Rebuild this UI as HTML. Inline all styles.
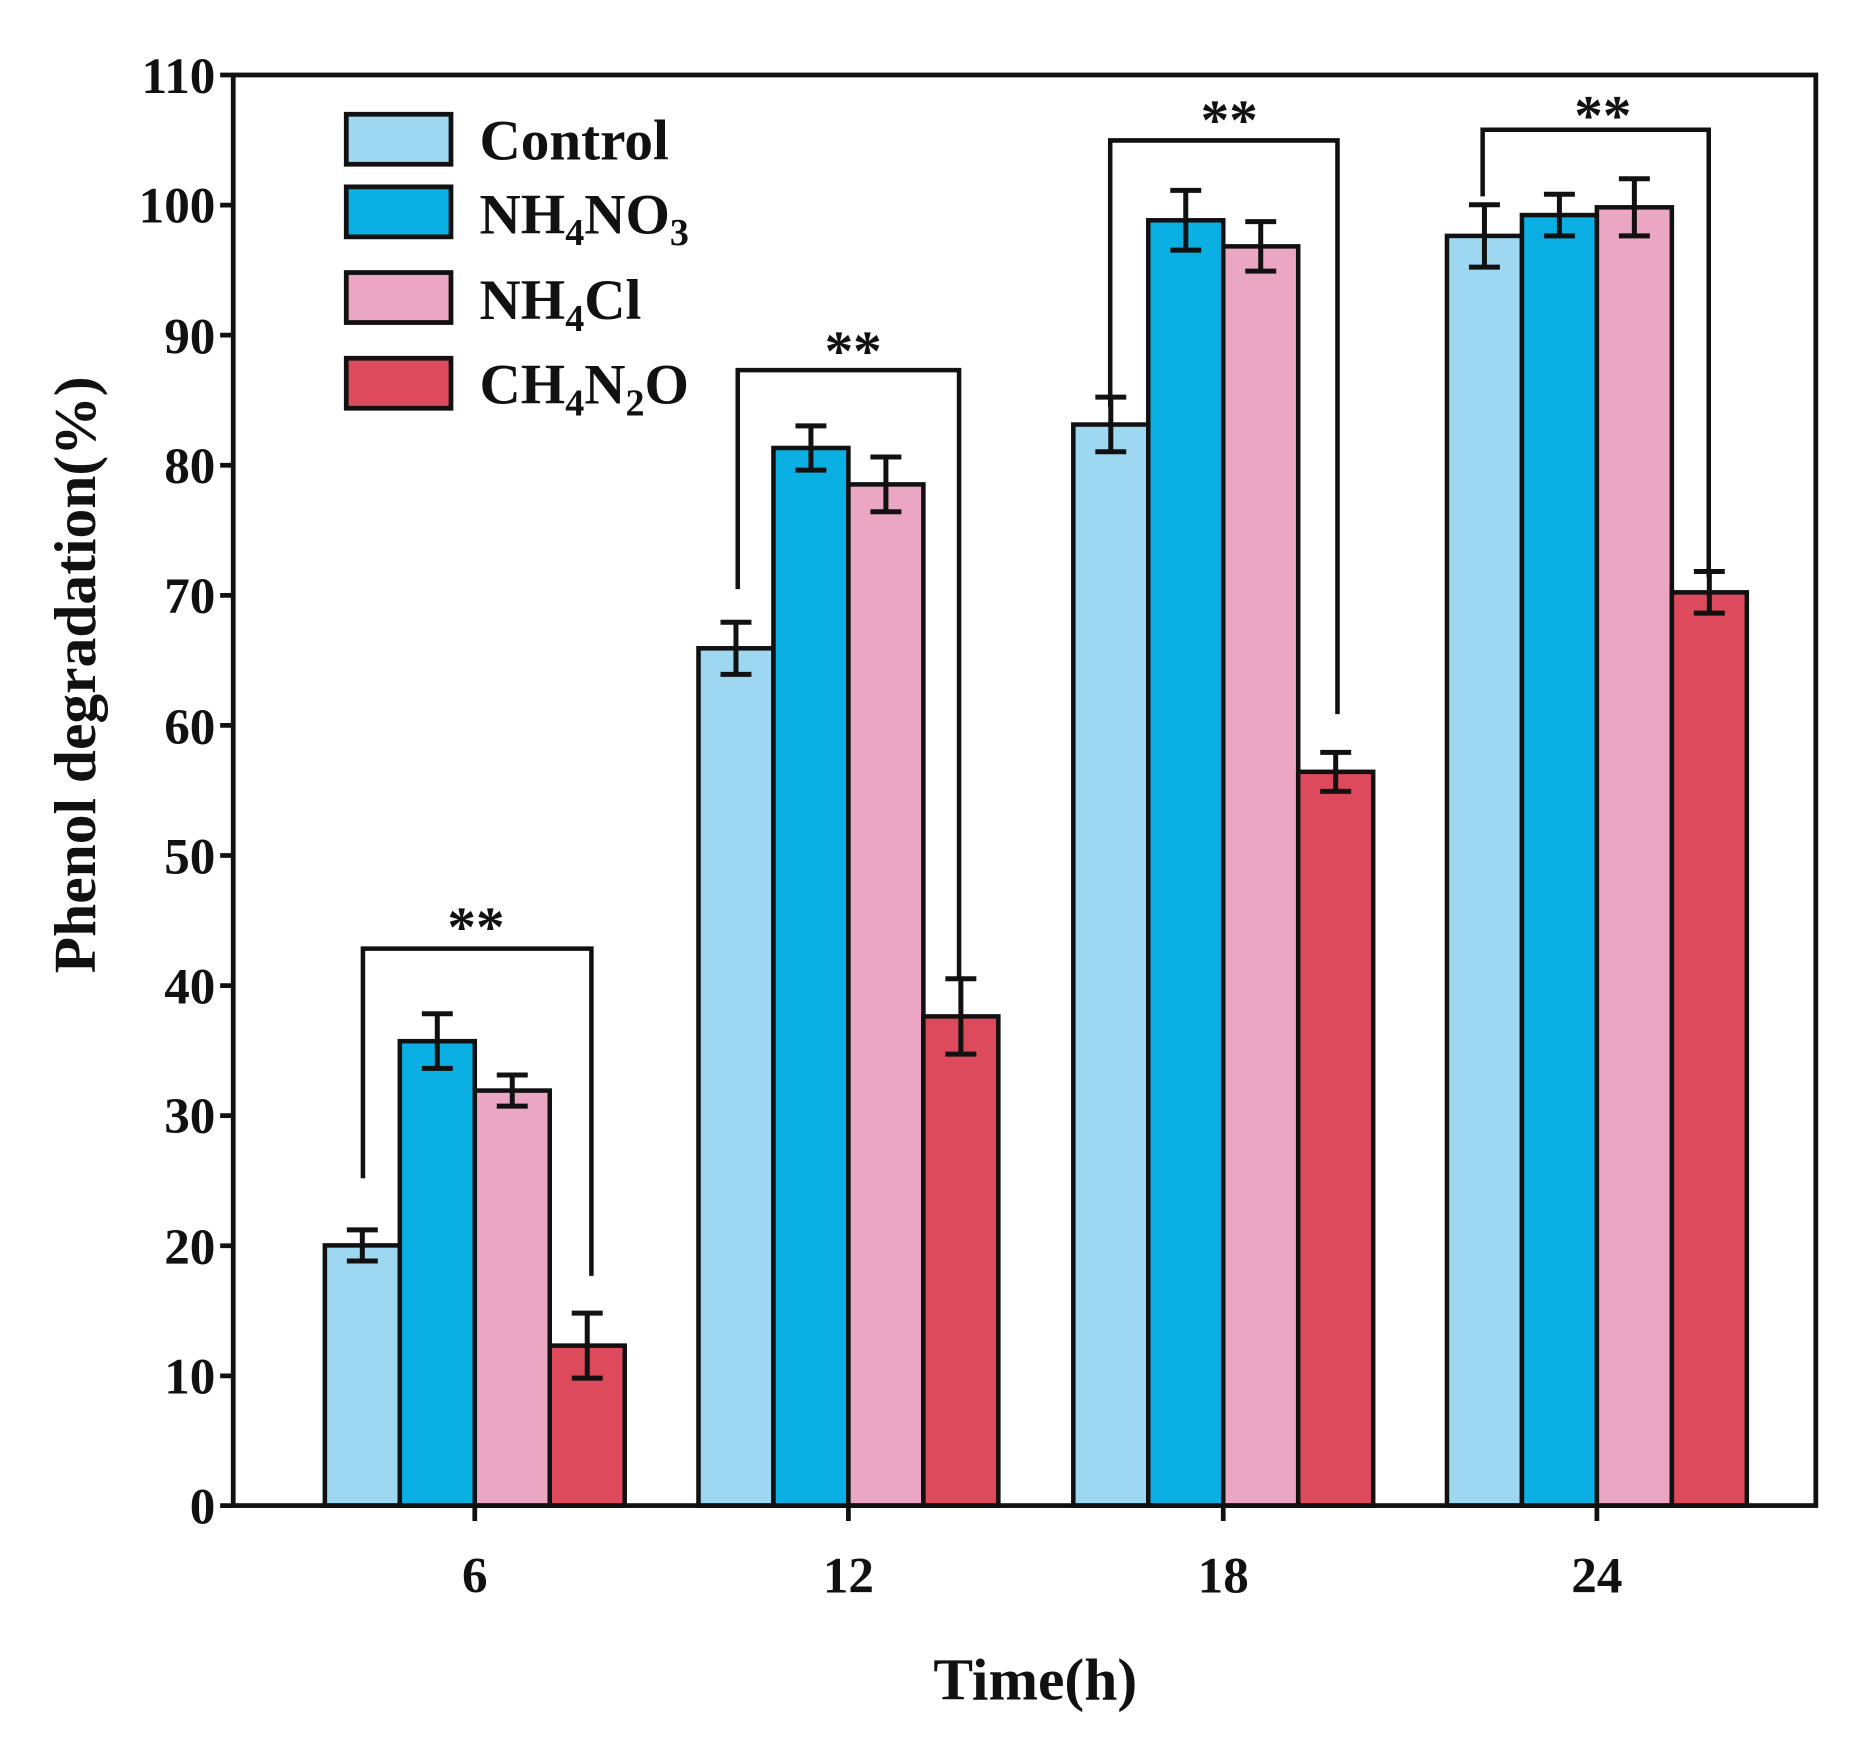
<!DOCTYPE html>
<html><head><meta charset="utf-8"><style>
html,body{margin:0;padding:0;background:#fff}
svg{display:block}
text{font-family:"Liberation Serif",serif;font-weight:bold;fill:#111}
</style></head><body>
<svg width="1867" height="1746" viewBox="0 0 1569 1467" preserveAspectRatio="none" xmlns="http://www.w3.org/2000/svg">
<g stroke="#111" stroke-width="3.8">
<rect x="273" y="1046.4" width="63" height="218.6" fill="#9dd7f0"/>
<rect x="336" y="874.8" width="63" height="390.2" fill="#0aafe3"/>
<rect x="399" y="916.3" width="63" height="348.7" fill="#eaa6c2"/>
<rect x="462" y="1130.6" width="63" height="134.4" fill="#dd4a5c"/>
<rect x="587" y="544.7" width="63" height="720.3" fill="#9dd7f0"/>
<rect x="650" y="376.4" width="63" height="888.6" fill="#0aafe3"/>
<rect x="713" y="407.0" width="63" height="858.0" fill="#eaa6c2"/>
<rect x="776" y="854.0" width="63" height="411.0" fill="#dd4a5c"/>
<rect x="902" y="356.7" width="63" height="908.3" fill="#9dd7f0"/>
<rect x="965" y="185.1" width="63" height="1079.9" fill="#0aafe3"/>
<rect x="1028" y="207.0" width="63" height="1058.0" fill="#eaa6c2"/>
<rect x="1091" y="648.5" width="63" height="616.5" fill="#dd4a5c"/>
<rect x="1216" y="198.2" width="63" height="1066.8" fill="#9dd7f0"/>
<rect x="1279" y="180.7" width="63" height="1084.3" fill="#0aafe3"/>
<rect x="1342" y="174.2" width="63" height="1090.8" fill="#eaa6c2"/>
<rect x="1405" y="497.7" width="63" height="767.3" fill="#dd4a5c"/>
</g>
<g stroke="#111" stroke-width="4.2" fill="none">
<path d="M304.5 1033.3V1059.5M291.5 1033.3H317.5M291.5 1059.5H317.5"/>
<path d="M367.5 851.8V897.7M354.5 851.8H380.5M354.5 897.7H380.5"/>
<path d="M430.5 903.2V929.4M417.5 903.2H443.5M417.5 929.4H443.5"/>
<path d="M493.5 1103.3V1157.9M480.5 1103.3H506.5M480.5 1157.9H506.5"/>
<path d="M618.5 522.8V566.6M605.5 522.8H631.5M605.5 566.6H631.5"/>
<path d="M681.5 357.8V395.0M668.5 357.8H694.5M668.5 395.0H694.5"/>
<path d="M744.5 384.0V430.0M731.5 384.0H757.5M731.5 430.0H757.5"/>
<path d="M807.5 822.3V885.7M794.5 822.3H820.5M794.5 885.7H820.5"/>
<path d="M933.5 333.7V379.6M920.5 333.7H946.5M920.5 379.6H946.5"/>
<path d="M996.5 160.0V210.2M983.5 160.0H1009.5M983.5 210.2H1009.5"/>
<path d="M1059.5 186.2V227.8M1046.5 186.2H1072.5M1046.5 227.8H1072.5"/>
<path d="M1122.5 632.1V664.9M1109.5 632.1H1135.5M1109.5 664.9H1135.5"/>
<path d="M1247.5 172.0V224.4M1234.5 172.0H1260.5M1234.5 224.4H1260.5"/>
<path d="M1310.5 163.2V198.2M1297.5 163.2H1323.5M1297.5 198.2H1323.5"/>
<path d="M1373.5 150.2V198.2M1360.5 150.2H1386.5M1360.5 198.2H1386.5"/>
<path d="M1436.5 480.2V515.2M1423.5 480.2H1449.5M1423.5 515.2H1449.5"/>
</g>
<g stroke="#111" stroke-width="3.8" fill="none">
<path d="M305 990V797H497V1072"/>
<path d="M620 495V311H806V822"/>
<path d="M933 342V118H1124V600"/>
<path d="M1246 165V109H1436V485"/>
</g>
<g font-size="48" text-anchor="middle">
<text x="400" y="795">**</text>
<text x="717" y="311">**</text>
<text x="1033" y="117">**</text>
<text x="1347" y="113">**</text>
</g>
<rect x="196" y="63" width="1330" height="1202" fill="none" stroke="#111" stroke-width="4"/>
<g stroke="#111" stroke-width="4">
<path d="M185 63H196M185 172.3H196M185 281.6H196M185 390.9H196M185 500.2H196M185 609.5H196M185 718.8H196M185 828.1H196M185 937.4H196M185 1046.7H196M185 1156H196M185 1265H196"/>
<path d="M399 1265V1278M713 1265V1278M1028 1265V1278M1342 1265V1278"/>
</g>
<g font-size="43" text-anchor="end">
<text x="181" y="78">110</text>
<text x="181" y="187">100</text>
<text x="181" y="297">90</text>
<text x="181" y="406">80</text>
<text x="181" y="515">70</text>
<text x="181" y="625">60</text>
<text x="181" y="734">50</text>
<text x="181" y="843">40</text>
<text x="181" y="952">30</text>
<text x="181" y="1062">20</text>
<text x="181" y="1171">10</text>
<text x="181" y="1280">0</text>
</g>
<g font-size="43" text-anchor="middle">
<text x="399" y="1338">6</text>
<text x="713" y="1338">12</text>
<text x="1028" y="1338">18</text>
<text x="1342" y="1338">24</text>
</g>
<text x="870" y="1428" font-size="50" text-anchor="middle">Time(h)</text>
<text transform="translate(80,567) rotate(-90)" font-size="50" text-anchor="middle">Phenol degradation(%)</text>
<g stroke="#111" stroke-width="4">
<rect x="291" y="96" width="88" height="42" fill="#9dd7f0"/>
<rect x="291" y="157" width="88" height="42" fill="#0aafe3"/>
<rect x="291" y="229" width="88" height="42" fill="#eaa6c2"/>
<rect x="291" y="301" width="88" height="42" fill="#dd4a5c"/>
</g>
<g font-size="48">
<text x="403" y="134">Control</text>
<text x="403" y="196">NH<tspan font-size="32" dy="10">4</tspan><tspan dy="-10">NO</tspan><tspan font-size="32" dy="10">3</tspan></text>
<text x="403" y="268">NH<tspan font-size="32" dy="10">4</tspan><tspan dy="-10">Cl</tspan></text>
<text x="403" y="339">CH<tspan font-size="32" dy="10">4</tspan><tspan dy="-10">N</tspan><tspan font-size="32" dy="10">2</tspan><tspan dy="-10">O</tspan></text>
</g>
</svg>
</body></html>
